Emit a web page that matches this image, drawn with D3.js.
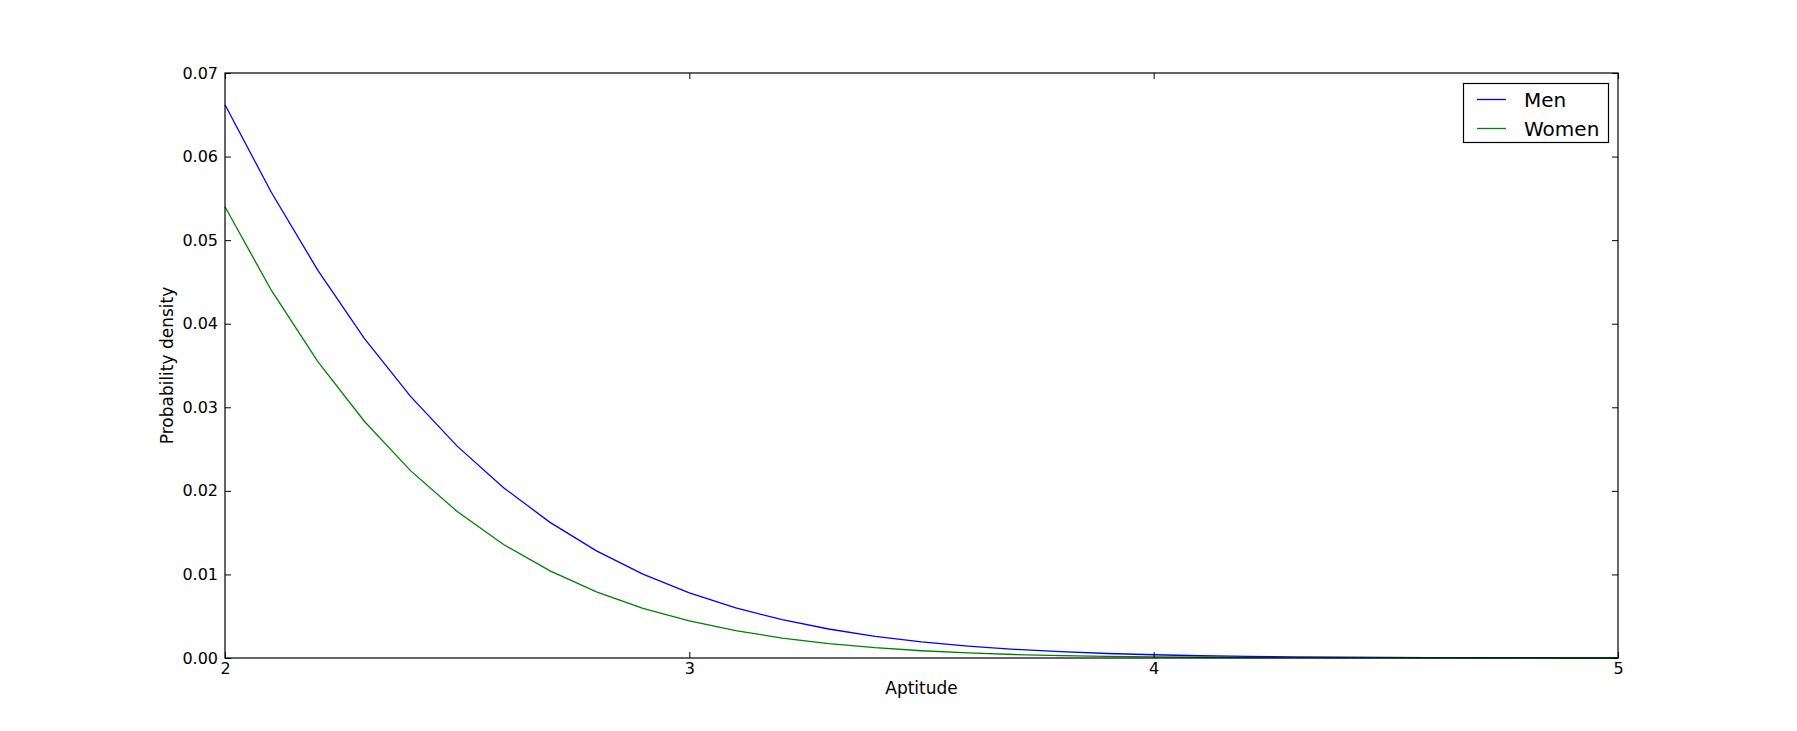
<!DOCTYPE html>
<html><head><meta charset="utf-8">
<script src="https://cdn.jsdelivr.net/npm/d3@7"></script>
<style>body{margin:0;background:#fff}svg{display:block}text{font-family:"DejaVu Sans",sans-serif;fill:#000}</style>
</head><body>
<script>
const xs = [2.0,2.1,2.2,2.3,2.4,2.5,2.6,2.7,2.8,2.9,3.0,3.1,3.2,3.3,3.4,3.5,3.6,3.7,3.8,3.9,4.0,4.1,4.2,4.3,4.4,4.5,4.6,4.7,4.8,4.9,5.0];
const men = [0.06620,0.05570,0.04639,0.03825,0.03127,0.02535,0.02037,0.01623,0.01282,0.01004,0.00780,0.00600,0.00458,0.00347,0.00260,0.00194,0.00143,0.00104,0.00076,0.00054,0.00039,0.00027,0.00019,0.00013,0.000092,0.000063,0.000042,0.000029,0.000019,0.000013,0.000008];
const women = [0.05399,0.04398,0.03547,0.02833,0.02239,0.01753,0.01358,0.01042,0.00792,0.00595,0.00443,0.00327,0.00238,0.00172,0.00123,0.00087,0.00061,0.00042,0.00029,0.00020,0.000134,0.000089,0.000059,0.000039,0.000025,0.000016,0.00001,0.000006,0.000004,0.000002,0.0000015];
const xTicks = [2,3,4,5];
const yTicks = [0,0.01,0.02,0.03,0.04,0.05,0.06,0.07];
const seriesNames = ["Men","Women"];
const seriesColors = ["#0000ff","#008000"];

const W=1797,H=731, L=225, R=1618, T=73, B=658;
const svg=d3.select("body").append("svg").attr("width",W).attr("height",H);
const x=d3.scaleLinear().domain([2,5]).range([L,R]);
const y=d3.scaleLinear().domain([0,0.07]).range([B,T]);

const series=[men,women];
const line=d3.line().x((d,i)=>x(xs[i])).y(d=>y(d));
series.forEach((s,k)=>{
  svg.append("path").datum(s).attr("d",line).attr("fill","none").attr("stroke",seriesColors[k]).attr("stroke-width",1.3);
});

const tl=6;
const gb=svg.append("g").attr("transform",`translate(0,${B})`).call(d3.axisBottom(x).tickValues(xTicks).tickFormat(d3.format("d")).tickSizeInner(-tl).tickSizeOuter(0).tickPadding(5));
const gt=svg.append("g").attr("transform",`translate(0,${T})`).call(d3.axisTop(x).tickValues(xTicks).tickFormat("").tickSizeInner(-tl).tickSizeOuter(0));
const gl=svg.append("g").attr("transform",`translate(${L},0)`).call(d3.axisLeft(y).tickValues(yTicks).tickFormat(d3.format(".2f")).tickSizeInner(-tl).tickSizeOuter(0).tickPadding(7));
const gr=svg.append("g").attr("transform",`translate(${R},0)`).call(d3.axisRight(y).tickValues(yTicks).tickFormat("").tickSizeInner(-tl).tickSizeOuter(0));
[gb,gt,gl,gr].forEach(g=>{g.select(".domain").remove();g.selectAll("line").attr("stroke","#000").attr("stroke-width",1);g.selectAll("text").attr("font-size",16).attr("font-family","DejaVu Sans");});
svg.append("rect").attr("x",L).attr("y",T).attr("width",R-L).attr("height",B-T).attr("fill","none").attr("stroke","#000").attr("stroke-width",1.2);

svg.append("text").attr("x",(L+R)/2).attr("y",694).attr("text-anchor","middle").attr("font-size",17).text("Aptitude");
svg.append("text").attr("transform",`translate(173,${(T+B)/2}) rotate(-90)`).attr("text-anchor","middle").attr("font-size",17).text("Probability density");

const lg=svg.append("g");
lg.append("rect").attr("x",1463.5).attr("y",83.5).attr("width",145).attr("height",59).attr("fill","#fff").attr("stroke","#000").attr("stroke-width",1.2);
seriesNames.forEach((n,i)=>{
  const yy=99.5+i*29;
  lg.append("line").attr("x1",1477).attr("x2",1506).attr("y1",yy).attr("y2",yy).attr("stroke",seriesColors[i]).attr("stroke-width",1.3);
  lg.append("text").attr("x",1524).attr("y",yy+7).attr("font-size",20).text(n);
});
</script>
</body></html>
